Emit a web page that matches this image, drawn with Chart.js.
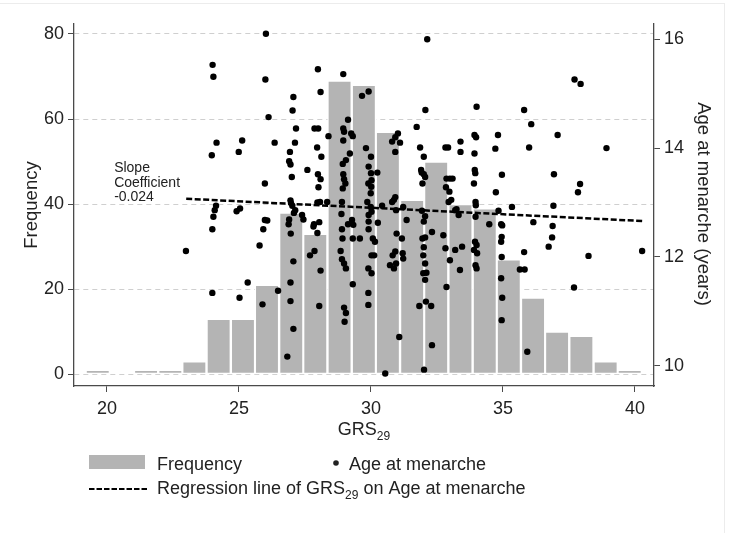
<!DOCTYPE html>
<html>
<head>
<meta charset="utf-8">
<script src="https://cdn.jsdelivr.net/npm/chart.js@4.4.1/dist/chart.umd.min.js"></script>
<style>
  body { margin: 0; background: #fff; }
  #wrap { position: relative; width: 729px; height: 533px; }
  #frame { position: absolute; left: 0; top: 3px; width: 724px; height: 530px;
           border-top: 1px solid #ececec; border-right: 1px solid #ececec; }
  canvas { position: absolute; left: 0; top: 0; }
</style>
</head>
<body>
<div id="wrap">
  <div id="frame"></div>
  <canvas id="myChart" width="729" height="533"></canvas>
</div>
<script>
// Гистограмма GRS29 + возраст менархе (точки) + линия регрессии

// центры интервалов гистограммы
const binCenters = [19.65, 20.57, 21.48, 22.40, 23.31, 24.23, 25.15, 26.06, 26.98, 27.89, 28.81, 29.73,
  30.64, 31.56, 32.47, 33.39, 34.31, 35.22, 36.14, 37.05, 37.97, 38.89, 39.80];
const frequency = [1, 0, 1, 1, 3, 13, 13, 21, 38, 33, 69, 68, 57, 41, 50, 40, 39, 27, 18, 10, 9, 3, 1];

// точки: GRS29 и возраст менархе
const grs = [
  26.02, 24.00, 24.03, 26.00, 26.12, 24.15, 25.12, 23.97, 24.99, 25.98, 24.13, 24.08, 24.03, 23.99, 25.04,
  24.91, 25.98, 26.07, 25.92, 22.99, 25.78, 25.33, 23.99, 25.02, 25.89,
  27.99, 28.95, 27.06, 28.09, 27.03, 29.66, 29.91, 29.13, 27.16, 27.86, 28.00, 28.95, 28.98, 29.25, 29.31,
  28.95, 28.39, 26.35, 27.12, 26.93, 27.96, 28.12, 29.20, 29.81, 29.05, 28.93, 26.90, 26.95, 27.00, 27.59,
  27.99, 28.09, 28.01, 28.95, 28.98, 29.03, 28.93, 29.91, 29.90, 26.97, 26.95, 27.02, 27.13, 27.08, 27.39,
  27.44, 27.97, 28.07, 28.34, 28.90, 29.86, 26.90, 26.88, 26.96, 27.84, 27.82, 27.97, 28.04, 28.88, 29.13,
  29.28, 29.33, 28.90, 28.92, 29.31, 29.58, 29.91, 29.91, 29.91, 27.86, 27.69, 28.09, 27.06, 26.95, 26.95,
  27.06, 26.83, 26.48, 28.04, 28.85, 28.90, 28.98, 29.05, 29.31, 28.98, 29.05, 29.00, 29.90, 29.90, 29.90,
  32.13, 32.06, 31.73, 30.80, 30.92, 31.02, 31.10, 30.92, 31.86, 32.00, 31.92, 32.00, 32.05, 31.95, 31.90,
  32.82, 32.92, 33.39, 33.39, 32.86, 32.99, 33.09, 32.84, 32.97, 32.94, 33.04, 30.00, 30.00, 30.02, 30.01,
  29.99, 30.24, 29.99, 30.02, 30.07, 30.15, 30.02, 30.12, 30.02, 30.26, 30.42, 30.80, 30.87, 30.92, 30.95,
  30.97, 31.17, 30.92, 30.82, 31.20, 31.22, 30.72, 30.87, 30.95, 31.35, 31.22, 31.07, 30.54, 31.93, 32.00,
  32.05, 31.95, 32.05, 32.00, 31.98, 32.05, 31.98, 32.10, 32.05, 31.83, 32.08, 32.28, 32.31, 32.01, 32.31,
  32.74, 32.82, 32.99, 32.86, 33.19, 33.32, 33.24, 33.19, 33.45, 33.37,
  34.00, 33.92, 33.98, 33.92, 33.93, 33.95, 33.90, 33.96, 33.97, 33.96, 33.94, 34.00, 33.90, 34.02, 33.96,
  34.00, 34.81, 34.71, 34.96, 34.73, 34.83, 34.48, 34.93, 34.97, 34.95, 34.93, 34.95, 34.93, 34.97, 34.95,
  35.34, 35.80, 36.07, 35.99, 36.15, 35.80, 35.64, 35.82, 35.92, 37.07, 36.93, 36.91, 36.88, 36.86, 36.73,
  37.71, 37.94, 38.92, 37.92, 37.84, 38.24, 40.27, 37.69
];
const age = [
  16.10, 15.53, 15.31, 15.26, 14.57, 14.10, 14.14, 13.87, 13.93, 13.35, 12.94, 12.86, 12.74, 12.51, 12.89,
  12.84, 12.68, 12.67, 12.51, 12.11, 12.21, 11.53, 11.34, 11.25, 11.13,
  15.45, 15.36, 14.94, 15.03, 14.69, 14.96, 15.04, 14.52, 14.36, 14.36, 14.36, 14.36, 14.30, 14.27, 14.22,
  14.14, 14.22, 14.10, 14.10, 13.93, 14.01, 13.84, 13.90, 14.00, 13.78, 13.71, 13.76, 13.70, 13.47, 13.60,
  13.52, 13.43, 13.28, 13.52, 13.43, 13.35, 13.26, 13.66, 13.35, 12.99, 13.04, 12.94, 12.86, 12.81, 12.77,
  12.69, 13.00, 13.01, 13.01, 13.01, 13.01, 12.69, 12.60, 12.43, 12.60, 12.56, 12.44, 12.64, 12.79, 12.60,
  12.68, 12.59, 12.51, 12.34, 12.34, 12.34, 12.77, 12.65, 12.51, 12.11, 12.03, 11.75, 11.92, 11.53, 11.19,
  10.68, 10.17, 11.38, 11.10, 12.11, 11.96, 11.88, 11.79, 11.50, 11.07, 10.97, 10.81, 11.79, 11.34, 11.12,
  16.00, 14.70, 14.39, 14.12, 14.20, 14.27, 14.10, 13.93, 14.01, 13.84, 13.55, 13.52, 13.47, 13.35, 13.60,
  14.01, 14.01, 14.12, 13.93, 13.44, 13.44, 13.44, 13.28, 13.20, 13.01, 13.05, 13.84, 13.54, 13.41, 13.29,
  13.17, 13.55, 12.92, 12.83, 12.34, 12.28, 12.03, 12.03, 11.70, 12.63, 12.94, 13.01, 13.05, 13.10, 12.86,
  12.43, 12.34, 12.10, 12.03, 12.07, 11.97, 11.85, 11.79, 11.88, 12.68, 12.92, 10.53, 9.86, 12.85, 12.65,
  12.75, 12.34, 12.36, 12.18, 12.03, 11.88, 11.70, 11.71, 11.58, 11.10, 11.18, 11.10, 10.38, 9.93, 12.46,
  12.40, 12.16, 11.94, 11.45, 12.86, 12.77, 12.88, 12.13, 12.19, 11.76,
  14.76, 14.24, 14.20, 13.90, 13.60, 13.54, 13.35, 13.01, 12.95, 12.74, 12.28, 12.22, 12.13, 12.07, 11.85,
  11.79, 14.24, 13.99, 13.51, 13.19, 12.85, 12.60, 12.60, 12.58, 12.37, 12.28, 12.00, 11.61, 11.25, 10.84,
  12.92, 14.70, 14.44, 14.01, 12.64, 12.09, 11.77, 11.77, 10.26, 14.24, 13.52, 12.94, 12.57, 12.36, 12.19,
  15.26, 15.18, 14.00, 13.34, 13.19, 12.02, 12.11, 11.44
];

// линия регрессии (концы)
const regX = [23.0, 40.3];
const regAge = [13.07, 12.66];

// деления осей
const xTicks = [20, 25, 30, 35, 40];
const freqTicks = [0, 20, 40, 60, 80];
const ageTicks = [10, 12, 14, 16];

const FONT = '"Liberation Sans", Arial, sans-serif';
const TXT = '#222';
const AXIS = '#4a4a4a';
const BAR = '#b4b4b4';

function setTicks(list) {
  return (scale) => { scale.ticks = list.map(v => ({ value: v })); };
}

// подписи осей, аннотация и легенда
const textPlugin = {
  id: 'texts',
  afterDraw(chart) {
    const ctx = chart.ctx;
    const xs = chart.scales.x, ys = chart.scales.y;
    ctx.save();
    ctx.fillStyle = TXT;

    // Frequency
    ctx.save();
    ctx.translate(32, 205);
    ctx.rotate(-Math.PI / 2);
    ctx.textAlign = 'center';
    ctx.textBaseline = 'middle';
    ctx.font = '18.5px ' + FONT;
    ctx.fillText('Frequency', 0, 0);
    ctx.restore();

    // Age at menarche (years)
    ctx.save();
    ctx.translate(703, 204);
    ctx.rotate(Math.PI / 2);
    ctx.textAlign = 'center';
    ctx.textBaseline = 'middle';
    ctx.font = '18.5px ' + FONT;
    ctx.fillText('Age at menarche (years)', 0, 0);
    ctx.restore();

    // GRS29
    ctx.textBaseline = 'alphabetic';
    ctx.textAlign = 'left';
    ctx.font = '18px ' + FONT;
    const w1 = ctx.measureText('GRS').width;
    ctx.font = '12px ' + FONT;
    const w2 = ctx.measureText('29').width;
    const gx = (xs.left + xs.right) / 2 - (w1 + w2) / 2;
    ctx.font = '18px ' + FONT;
    ctx.fillText('GRS', gx, 435);
    ctx.font = '12px ' + FONT;
    ctx.fillText('29', gx + w1, 440);

    // Slope coefficient
    ctx.font = '14px ' + FONT;
    const ax = xs.getPixelForValue(20.27);
    const ay = ys.getPixelForValue(47.5);
    ctx.fillText('Slope', ax, ay);
    ctx.fillText('Coefficient', ax, ay + 15);
    ctx.fillText('-0.024', ax, ay + 29);

    // legend
    ctx.fillStyle = BAR;
    ctx.fillRect(89, 455, 56, 14);
    ctx.fillStyle = TXT;
    ctx.font = '18px ' + FONT;
    ctx.fillText('Frequency', 157, 469.5);
    ctx.beginPath();
    ctx.arc(336, 463, 2.8, 0, Math.PI * 2);
    ctx.fill();
    ctx.fillText('Age at menarche', 349, 469.5);

    ctx.strokeStyle = '#000';
    ctx.lineWidth = 2.2;
    ctx.setLineDash([5.5, 2]);
    ctx.beginPath();
    ctx.moveTo(89, 489);
    ctx.lineTo(148, 489);
    ctx.stroke();
    ctx.setLineDash([]);
    const t1 = 'Regression line of GRS';
    ctx.fillText(t1, 157, 494);
    const tw = ctx.measureText(t1).width;
    ctx.font = '12px ' + FONT;
    ctx.fillText('29', 157 + tw, 499);
    const sw = ctx.measureText('29').width;
    ctx.font = '18px ' + FONT;
    ctx.fillText(' on Age at menarche', 157 + tw + sw, 494);
    ctx.restore();
  }
};

document.addEventListener('DOMContentLoaded', () => {
  const barData = binCenters.map((c, i) => ({ x: c, y: frequency[i] }));
  const pointData = grs.map((g, i) => ({ x: g, y: age[i] }));
  const lineData = regX.map((g, i) => ({ x: g, y: regAge[i] }));

  const config = {
    type: 'bar',
    data: {
      datasets: [{
        type: 'bar',
        label: 'Frequency',
        data: barData,
        backgroundColor: BAR,
        borderColor: '#ffffff',
        borderWidth: 1.4,
        borderSkipped: false,
        barPercentage: 1,
        categoryPercentage: 1,
        yAxisID: 'y',
        order: 3
      }, {
        type: 'scatter',
        label: 'Age at menarche',
        data: pointData,
        backgroundColor: '#000',
        borderColor: '#000',
        pointRadius: 3.2,
        borderWidth: 0,
        yAxisID: 'y2',
        order: 2
      }, {
        type: 'line',
        label: 'Regression line',
        data: lineData,
        borderColor: '#000',
        borderWidth: 2.5,
        borderDash: [6, 2.5],
        pointRadius: 0,
        fill: false,
        yAxisID: 'y2',
        order: 1
      }]
    },
    options: {
      responsive: false,
      animation: false,
      devicePixelRatio: 1,
      layout: { padding: { top: 24, left: 0, right: 0, bottom: 0 } },
      plugins: { legend: { display: false }, tooltip: { enabled: false } },
      scales: {
        x: {
          type: 'linear',
          offset: false,
          min: 18.75,
          max: 40.72,
          afterBuildTicks: setTicks(xTicks),
          afterFit: (s) => { s.height = 147; },
          grid: { drawOnChartArea: false, tickLength: 6, tickColor: AXIS, offset: false },
          border: { color: AXIS, width: 1.3 },
          ticks: { font: { family: FONT, size: 18 }, color: TXT, padding: 6, maxRotation: 0 }
        },
        y: {
          position: 'left',
          min: -2.75,
          max: 82.35,
          afterBuildTicks: setTicks(freqTicks),
          afterFit: (s) => { s.width = 74; },
          grid: { color: '#cfcfcf', lineWidth: 1, tickLength: 6, tickColor: AXIS, tickBorderDash: [] },
          border: { color: AXIS, width: 1.3, dash: [5, 4] },
          ticks: { font: { family: FONT, size: 18 }, color: TXT, padding: 4 }
        },
        y2: {
          position: 'right',
          min: 9.63,
          max: 16.28,
          afterBuildTicks: setTicks(ageTicks),
          afterFit: (s) => { s.width = 75; },
          grid: { drawOnChartArea: false, tickLength: 6, tickColor: AXIS },
          border: { color: AXIS, width: 1.3 },
          ticks: { font: { family: FONT, size: 18 }, color: TXT, padding: 4 }
        }
      }
    },
    plugins: [textPlugin]
  };

  const myChart = new Chart(document.getElementById('myChart'), config);
});
</script>
</body>
</html>
